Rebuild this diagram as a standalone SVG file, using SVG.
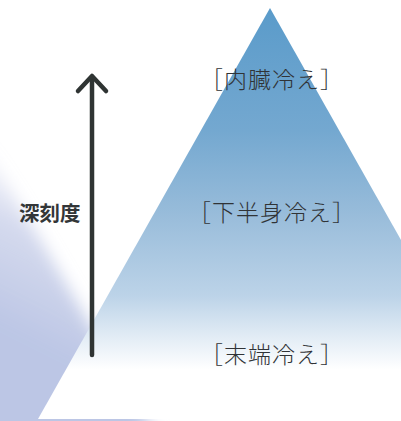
<svg xmlns="http://www.w3.org/2000/svg" width="401" height="421" viewBox="0 0 401 421">
  <style>
    .lbl { font-family: "Noto Sans CJK JP", "Noto Sans", sans-serif; font-size: 23px; font-weight: 300; fill: #303336; text-anchor: middle; letter-spacing: 1px; }
    .axis { font-family: "Noto Sans CJK JP", "Noto Sans", sans-serif; font-size: 20.5px; font-weight: 700; fill: #333638; }
    .arr { fill: none; stroke: #2f3433; stroke-width: 4.5; stroke-linecap: round; stroke-linejoin: round; }
  </style>
  <defs>
    <linearGradient id="pyr" x1="0" y1="8" x2="0" y2="419" gradientUnits="userSpaceOnUse">
      <stop offset="0" stop-color="#5a9bca"/>
      <stop offset="0.3" stop-color="#74a8d0"/>
      <stop offset="0.5" stop-color="#98bcda"/>
      <stop offset="0.7" stop-color="#bcd3e8"/>
      <stop offset="0.8" stop-color="#e2ecf5"/>
      <stop offset="0.88" stop-color="#ffffff"/>
      <stop offset="1" stop-color="#ffffff"/>
    </linearGradient>
    <linearGradient id="lav" x1="80" y1="190" x2="10" y2="330" gradientUnits="userSpaceOnUse">
      <stop offset="0" stop-color="#c7cde8" stop-opacity="0"/>
      <stop offset="0.4" stop-color="#c6cde8" stop-opacity="0.75"/>
      <stop offset="1" stop-color="#bcc6e5"/>
    </linearGradient>
    <filter id="soft" x="-20%" y="-20%" width="140%" height="140%">
      <feGaussianBlur stdDeviation="8"/>
    </filter>
  </defs>

  <rect width="401" height="421" fill="#ffffff"/>

  <g id="background-shape">
    <polygon points="-30,120 170,460 -30,460" fill="url(#lav)" filter="url(#soft)"/>
  </g>

  <g id="pyramid">
    <polygon points="270,8 38,419 502,419" fill="url(#pyr)"/>
  </g>

  <g id="connectors">
    <line class="arr" x1="92" y1="78" x2="92" y2="355"/>
    <polyline class="arr" points="78,91 92,76 106,91"/>
  </g>

  <g id="axis-label">
    <text class="axis" x="19" y="221">深刻度</text>
  </g>

  <g id="level-top">
    <text class="lbl" x="272" y="88">［内臓冷え］</text>
  </g>
  <g id="level-middle">
    <text class="lbl" x="272" y="221">［下半身冷え］</text>
  </g>
  <g id="level-bottom">
    <text class="lbl" x="272" y="363">［末端冷え］</text>
  </g>
</svg>
